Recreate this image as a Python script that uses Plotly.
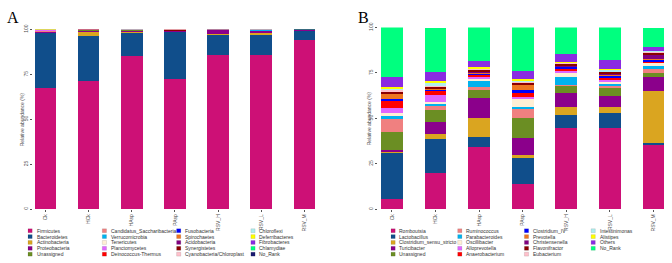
import plotly.graph_objects as go

samples = ["Ck", "HCk", "HAsp", "PAsp", "RSV_H", "RSV_L", "RSV_M"]

phyla = ["Firmicutes", "Bacteroidetes", "Actinobacteria", "Proteobacteria", "Unassigned",
         "Candidatus_Saccharibacteria", "Verrucomicrobia", "Tenericutes", "Planctomycetes",
         "Deinococcus-Thermus", "Fusobacteria", "Spirochaetes", "Acidobacteria", "Synergistetes",
         "Cyanobacteria/Chloroplast", "Chloroflexi", "Deferribacteres", "Fibrobacteres",
         "Chlamydiae", "No_Rank"]

genera = ["Romboutsia", "Lactobacillus", "Clostridium_sensu_stricto", "Turicibacter", "Unassigned",
          "Ruminococcus", "Parabacteroides", "Oscillibacter", "Alloprevotella", "Anaerobacterium",
          "Clostridium_IV", "Prevotella", "Christensenella", "Flavonifractor", "Eubacterium",
          "Intestinimonas", "Alistipes", "Others", "No_Rank"]

palette = ["#CD1076", "#104E8B", "#DAA520", "#8B008B", "#6B8E23", "#F08080", "#00B2EE",
           "#FFEFD5", "#E066FF", "#FF0000", "#0000FF", "#EE7621", "#800080", "#8B0000",
           "#FFC0CB", "#AEEEEE", "#FFFF00", "#8A2BE2", "#00FF7F", "#191970"]

# Phylum relative abundance (%) per sample, in the order of `phyla`
phylum_ck = [67.2, 30.6, 0.5, 0.3, 0.1, 0.6, 0.05, 0.05, 0.05, 0.05, 0.02, 0.02, 0.02, 0.1, 0.3, 0.02, 0.02, 0.01, 0.01, 0.02]
phylum_hck = [71.4, 25.0, 2.0, 1.0, 0.1, 0.1, 0.05, 0.05, 0.05, 0.02, 0.02, 0.02, 0.02, 0.05, 0.2, 0.02, 0.02, 0.01, 0.01, 0.02]
phylum_hasp = [85.0, 13.3, 0.3, 0.8, 0.05, 0.1, 0.1, 0.05, 0.02, 0.02, 0.02, 0.02, 0.02, 0.05, 0.1, 0.2, 0.02, 0.01, 0.01, 0.02]
phylum_pasp = [72.3, 26.3, 0.1, 0.2, 0.05, 0.1, 0.05, 0.02, 0.02, 0.02, 0.02, 0.02, 0.02, 0.5, 0.3, 0.05, 0.02, 0.01, 0.01, 0.02]
phylum_rsv_h = [85.9, 11.0, 0.8, 1.8, 0.05, 0.05, 0.1, 0.02, 0.02, 0.02, 0.02, 0.02, 0.02, 0.05, 0.05, 0.05, 0.02, 0.01, 0.01, 0.02]
phylum_rsv_l = [85.5, 11.3, 1.0, 1.2, 0.05, 0.05, 0.6, 0.02, 0.02, 0.02, 0.02, 0.02, 0.02, 0.05, 0.05, 0.1, 0.02, 0.01, 0.01, 0.02]
phylum_rsv_m = [94.2, 4.9, 0.1, 0.3, 0.02, 0.05, 0.02, 0.02, 0.02, 0.02, 0.02, 0.02, 0.02, 0.1, 0.1, 0.02, 0.02, 0.01, 0.01, 0.02]

# Genus relative abundance (%) per sample, in the order of `genera`
genus_ck = [5.5, 25.5, 0.7, 0.9, 9.8, 7.5, 1.6, 1.6, 2.7, 3.9, 0.8, 2.7, 0.3, 1.1, 0.8, 0.8, 1.1, 5.4, 27.4]
genus_hck = [20.1, 18.8, 2.7, 6.3, 6.8, 2.2, 1.2, 1.1, 3.6, 2.2, 0.5, 0.5, 0.3, 0.9, 0.5, 2.0, 0.9, 4.8, 24.4]
genus_hasp = [34.4, 5.4, 10.2, 11.3, 4.5, 1.5, 3.1, 1.5, 0.8, 1.1, 0.8, 0.5, 0.5, 0.9, 0.4, 0.5, 0.6, 3.4, 18.7]
genus_pasp = [13.8, 14.3, 1.5, 9.7, 10.8, 5.0, 1.4, 3.9, 1.4, 2.2, 1.8, 2.4, 0.3, 0.9, 0.5, 0.5, 1.2, 4.5, 24.0]
genus_rsv_h = [44.6, 7.2, 4.7, 7.5, 3.6, 0.9, 4.1, 2.5, 0.8, 1.2, 0.9, 0.4, 0.5, 0.9, 0.4, 0.5, 0.4, 4.3, 14.9]
genus_rsv_l = [44.6, 8.6, 3.2, 5.8, 4.3, 1.2, 1.4, 0.9, 1.2, 1.1, 1.2, 0.4, 0.5, 0.9, 0.4, 1.1, 0.3, 5.2, 18.0]
genus_rsv_m = [35.3, 1.4, 28.5, 7.7, 2.3, 1.8, 1.8, 1.6, 0.3, 0.5, 1.0, 0.3, 2.5, 1.0, 0.5, 0.3, 0.3, 2.2, 10.6]

y_ticks = [0, 25, 50, 75, 100]

phylum_table = [phylum_ck, phylum_hck, phylum_hasp, phylum_pasp, phylum_rsv_h, phylum_rsv_l, phylum_rsv_m]
genus_table = [genus_ck, genus_hck, genus_hasp, genus_pasp, genus_rsv_h, genus_rsv_l, genus_rsv_m]

W, H = 672, 263
FONT = "Liberation Sans, Arial, sans-serif"
TXT = "#4D4D4D"

fig = go.Figure()

def add_panel(names, table, xa, ya):
    for i, name in enumerate(names):
        fig.add_trace(go.Bar(
            x=samples, y=[row[i] for row in table], name=name,
            marker=dict(color=palette[i], line=dict(width=0)),
            width=0.5, xaxis=xa, yaxis=ya, showlegend=False))

add_panel(phyla, phylum_table, "x", "y")
add_panel(genera, genus_table, "x2", "y2")

def px_x(v):
    return v / W

def px_y(v):
    return (H - v) / H

axis_common = dict(showgrid=False, zeroline=False, showline=False, ticks="outside",
                   ticklen=2, tickwidth=0.6, tickcolor="#555555",
                   tickfont=dict(family=FONT, size=5, color=TXT))

fig.update_layout(
    width=W, height=H, barmode="stack",
    margin=dict(l=0, r=0, t=0, b=0),
    paper_bgcolor="white", plot_bgcolor="white",
    xaxis=dict(domain=[px_x(33), px_x(326)], anchor="y", type="category",
               range=[-0.29, 6.5], tickangle=-90, **axis_common),
    yaxis=dict(domain=[px_y(209), px_y(25)], anchor="x", range=[0, 100],
               tickvals=y_ticks, tickangle=-90, **axis_common),
    xaxis2=dict(domain=[px_x(378), px_x(671)], anchor="y2", type="category",
                range=[-0.32, 6.4], tickangle=-90, **axis_common),
    yaxis2=dict(domain=[px_y(209), px_y(23)], anchor="x2", range=[0, 100],
                tickvals=y_ticks, tickangle=-90, **axis_common),
    showlegend=False,
)

annotations = []
shapes = []

# panel letters
for letter, lx in (("A", 5), ("B", 356)):
    annotations.append(dict(text=letter, x=px_x(lx), y=px_y(13), xref="paper", yref="paper",
                            xanchor="left", yanchor="middle", showarrow=False,
                            font=dict(family="Liberation Serif, Times New Roman, serif",
                                      size=16, color="black")))

# y-axis titles
for tx, cy in ((22, 117), (369, 116)):
    annotations.append(dict(text="Relative abundance (%)", x=px_x(tx), y=px_y(cy),
                            xref="paper", yref="paper", xanchor="center", yanchor="middle",
                            textangle=-90, showarrow=False,
                            font=dict(family=FONT, size=5, color=TXT)))

# legends (4 columns x 5 rows, column-major)
row_y = [231, 237, 243, 249, 255]

def add_legend(names, x0, col_step):
    for i, name in enumerate(names):
        c, r = divmod(i, 5)
        sx = x0 + c * col_step
        cy = row_y[r]
        shapes.append(dict(type="rect", xref="paper", yref="paper",
                           x0=px_x(sx), x1=px_x(sx + 4.2),
                           y0=px_y(cy + 2), y1=px_y(cy - 2),
                           fillcolor=palette[i], line=dict(width=0.4, color="rgba(0,0,0,0.25)")))
        annotations.append(dict(text=name, x=px_x(sx + 6.5), y=px_y(cy), xref="paper", yref="paper",
                                xanchor="left", yanchor="middle", showarrow=False,
                                font=dict(family=FONT, size=5, color="#333333")))

add_legend(phyla, 28, 74.3)
add_legend(genera, 391, 66.7)

fig.update_layout(annotations=annotations, shapes=shapes)

fig.write_html("out.html", config={"displayModeBar": False},
               post_script="document.body.style.margin='0px';")
